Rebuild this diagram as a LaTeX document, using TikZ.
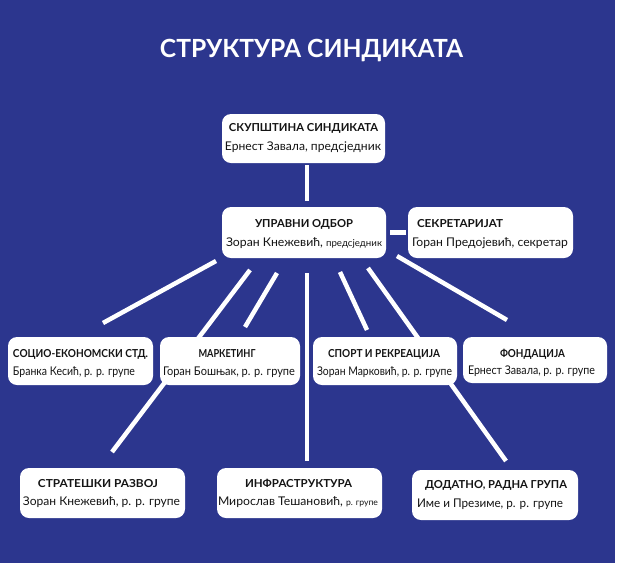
\documentclass[tikz,border=0pt]{standalone}
\usepackage{fontspec}
\usepackage{graphicx}
\setmainfont{Lato}
\definecolor{bgblue}{RGB}{44,54,142}
\definecolor{ink}{RGB}{20,20,20}
\tikzset{
  box/.style={fill=white, rounded corners=9pt, inner sep=0pt},
  hd/.style={anchor=base, inner sep=0pt, text=ink, font=\bfseries\fontsize{11}{13}\selectfont},
  tx/.style={anchor=base, inner sep=0pt, text=ink, font=\fontsize{12}{14}\selectfont},
  link/.style={draw=white, line width=4.5pt},
}
\newcommand{\fitw}[2]{\resizebox{#1pt}{\height}{#2}}
\newcommand{\smalltxt}[1]{{\fontsize{9.5}{14}\selectfont #1}}
\newcommand{\tinytxt}[1]{{\fontsize{8.5}{14}\selectfont #1}}
\begin{document}
\begin{tikzpicture}[x=1pt,y=-1pt]
\useasboundingbox (0,0) rectangle (620,563);
\fill[bgblue] (0,0) rectangle (615,563);
\fill[white] (615,0) rectangle (620,563);

\node[text=white, inner sep=0pt, font=\bfseries\fontsize{25}{30}\selectfont, anchor=base] (title) at (311.5,57) {\fitw{303}{СТРУКТУРА СИНДИКАТА}};

% connector end points
\coordinate (a1) at (216,261); \coordinate (b1) at (103,323);
\coordinate (a2) at (250,270); \coordinate (b2) at (112,452);
\coordinate (a3) at (277,273); \coordinate (b3) at (245,327);
\coordinate (a4) at (307,273); \coordinate (b4) at (307,461);
\coordinate (a5) at (340,272); \coordinate (b5) at (367,330);
\coordinate (a6) at (368,268); \coordinate (b6) at (506,461);
\coordinate (a7) at (397,256); \coordinate (b7) at (507,320);
\foreach \i in {1,...,7} { \draw[link] (a\i) -- (b\i); }

% boxes
\node[box, minimum width=163, minimum height=49] (skup) at (303.5,138.5) {};
\node[box, minimum width=164, minimum height=51] (uprav) at (304,232.5) {};
\node[box, minimum width=165, minimum height=51] (sekr) at (490.5,232.5) {};
\node[box, minimum width=145, minimum height=48] (socio) at (80.5,361) {};
\node[box, minimum width=140, minimum height=48] (mark) at (230,361) {};
\node[box, minimum width=144, minimum height=48] (sport) at (385,361) {};
\node[box, minimum width=144, minimum height=46] (fond) at (535,360) {};
\node[box, minimum width=165, minimum height=50] (strat) at (102.5,493) {};
\node[box, minimum width=165, minimum height=50] (infra) at (299.5,493) {};
\node[box, minimum width=166, minimum height=50] (dod) at (495,495) {};

% texts
\node[hd] (skup-h) at (303.5,131) {\fitw{149}{СКУПШТИНА СИНДИКАТА}};
\node[tx] (skup-t) at (303,150) {\fitw{156}{Ернест Завала, предсједник}};

\node[hd] (uprav-h) at (304,227) {\fitw{98}{УПРАВНИ ОДБОР}};
\node[tx] (uprav-t) at (304,246) {\fitw{156}{Зоран Кнежевић, \smalltxt{предсједник}}};

\node[hd] (sekr-h) at (460,227) {\fitw{86}{СЕКРЕТАРИЈАТ}};
\node[tx] (sekr-t) at (490,246) {\fitw{156}{Горан Предојевић, секретар}};

\node[hd] (socio-h) at (80.5,357) {\fitw{135}{СОЦИО-ЕКОНОМСКИ СТД.}};
\node[tx] (socio-t) at (74,375) {\fitw{122}{Бранка Кесић, р. р. групе}};

\node[hd] (mark-h) at (227,357) {\fitw{57}{МАРКЕТИНГ}};
\node[tx] (mark-t) at (229,375) {\fitw{132}{Горан Бошњак, р. р. групе}};

\node[hd] (sport-h) at (384,357) {\fitw{112}{СПОРТ И РЕКРЕАЦИЈА}};
\node[tx] (sport-t) at (384.5,375.5) {\fitw{135}{Зоран Марковић, р. р. групе}};

\node[hd] (fond-h) at (532.5,357) {\fitw{65}{ФОНДАЦИЈА}};
\node[tx] (fond-t) at (531.5,374) {\fitw{127}{Ернест Завала, р. р. групе}};

\node[hd] (strat-h) at (98,487) {\fitw{120}{СТРАТЕШКИ РАЗВОЈ}};
\node[tx] (strat-t) at (101.5,505) {\fitw{157}{Зоран Кнежевић, р. р. групе}};

\node[hd] (infra-h) at (298.5,487) {\fitw{107}{ИНФРАСТРУКТУРА}};
\node[tx] (infra-t) at (298,505) {\fitw{160}{Мирослав Тешановић, \tinytxt{р. групе}}};

\node[hd] (dod-h) at (496,488) {\fitw{142}{ДОДАТНО, РАДНА ГРУПА}};
\node[tx] (dod-t) at (490,507) {\fitw{146}{Име и Презиме, р. р. групе}};

% node-to-node connectors
\coordinate (skupend) at (307,201);
\draw[link] (skup.south -| skupend) ++(0,2) -- (skupend);
\draw[link, shorten <=4pt, shorten >=2pt] (uprav.east) -- (sekr.west);
\end{tikzpicture}
\end{document}
